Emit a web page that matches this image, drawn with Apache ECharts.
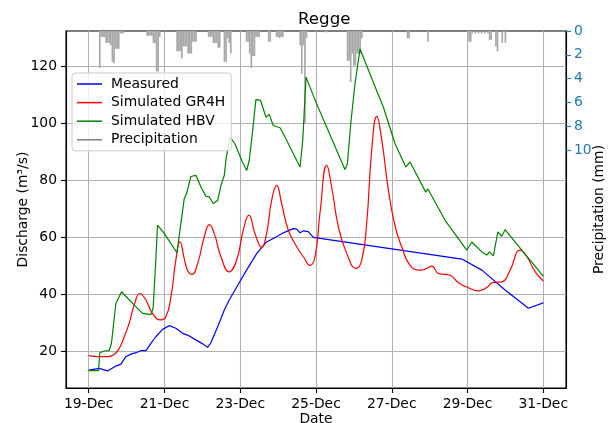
<!DOCTYPE html>
<html>
<head>
<meta charset="utf-8">
<script src="https://cdn.jsdelivr.net/npm/echarts@6/dist/echarts.min.js"></script>
<style>
html,body{margin:0;padding:0;background:#fff;}
#chart{width:613px;height:423px;}
</style>
</head>
<body>
<div id="chart"></div>
<script>
// Axis ticks: hours after 19-Dec 00:00 and their labels
const dayTickHours = [0, 48, 96, 144, 192, 240, 288];
const dayTickLabels = ['19-Dec', '21-Dec', '23-Dec', '25-Dec', '27-Dec', '29-Dec', '31-Dec'];
const dischargeTicks = [20, 40, 60, 80, 100, 120];
const precipTicks = [0, 2, 4, 6, 8, 10];

// Measured discharge (m³/s)
const measuredHours = [0, 6.6, 11.9, 17.2, 20.4, 23.5, 26.7, 29.9, 33, 36.2, 39.4, 42.5, 46.8, 51, 55.2, 59.5, 63.7, 67.9, 72.2, 75.3, 77.4, 81.7, 85.9, 89, 93.5, 100, 106.4, 112.7, 119, 123.3, 129.6, 131.8, 133.9, 136, 139.1, 142.3, 236.4, 249.1, 263.8, 278.6, 288];
const measuredFlow = [13.4, 14.0, 13.1, 14.8, 15.5, 18.1, 19.0, 19.5, 20.2, 20.2, 22.8, 25.1, 27.7, 29.0, 28.1, 26.3, 25.4, 24.0, 22.6, 21.4, 23.0, 28.6, 34.5, 38.0, 42.3, 48.5, 54.3, 58.4, 60.2, 61.6, 63.1, 62.9, 61.6, 62.3, 62.0, 60.0, 52.4, 48.5, 41.5, 35.1, 37.0];

// GR4H simulated discharge (m³/s)
const gr4hHours = [0, 6.6, 11.9, 16.1, 19.3, 22.5, 25.6, 28.8, 32.4, 36.2, 40.4, 45.7, 48.9, 52.1, 55.2, 57.8, 60.5, 62.6, 65.4, 69, 73.2, 76.4, 79.5, 83.8, 89, 93.7, 97.9, 101.5, 105.3, 109.6, 112.7, 115.9, 119.1, 122.2, 126.5, 131.8, 136, 140.2, 143.4, 146.5, 150.8, 153.9, 158.2, 163.5, 169.4, 173, 176.1, 179.3, 182.5, 185.7, 189.9, 194.1, 198.3, 203.6, 209.9, 214.2, 217.4, 221.6, 229, 234.2, 240.6, 246.9, 252.2, 256.4, 261.7, 267, 273.3, 277.6, 282.9, 288];
const gr4hFlow = [18.5, 18.1, 18.1, 18.9, 21.0, 25.1, 29.8, 36.2, 40.3, 38.0, 33.3, 31.0, 32.1, 39.1, 52.0, 58.4, 52.6, 48.5, 47.0, 50.8, 60.2, 64.5, 61.4, 53.2, 47.9, 52.0, 62.5, 67.8, 61.4, 56.5, 61.4, 73.0, 78.3, 71.9, 62.5, 56.7, 53.2, 50.2, 53.2, 68.4, 85.3, 77.7, 63.7, 54.3, 49.1, 52.0, 64.9, 90.6, 102.5, 94.1, 76.5, 64.0, 56.7, 50.2, 48.5, 49.1, 49.9, 47.3, 46.7, 44.1, 42.3, 41.2, 42.4, 44.2, 44.4, 48.5, 55.5, 53.2, 47.9, 44.7];

// HBV simulated discharge (m³/s)
const hbvHours = [0, 6.2, 7, 9.8, 12.9, 14.4, 17.2, 20.8, 27.8, 34.1, 39.4, 40.8, 42.5, 43.6, 47.8, 55.9, 58.4, 60.5, 62, 64.7, 67.9, 71.1, 74.3, 76.3, 78.9, 81.7, 83.8, 85.9, 86.9, 89.5, 92.6, 96.9, 100.1, 101.7, 103.2, 105.9, 108.9, 112.3, 114.4, 116.9, 121.2, 125.4, 129.6, 133.9, 135.6, 137.7, 144.4, 150.8, 162.4, 163.9, 166, 168.7, 171.9, 178.2, 186.7, 194.1, 200.9, 203.6, 213.5, 214.8, 225.8, 239.5, 242.7, 249.1, 252.2, 253.9, 256.4, 259.2, 261.7, 263.8, 274.4, 288];
const hbvFlow = [13.2, 13.2, 19.5, 20.1, 20.2, 22.8, 36.8, 40.9, 36.8, 33.3, 32.9, 35.1, 52.0, 64.3, 61.4, 54.6, 64.9, 73.6, 75.4, 81.4, 81.8, 77.7, 74.4, 74.3, 71.9, 73.0, 78.3, 81.8, 87.1, 95.2, 92.9, 87.1, 83.5, 87.1, 94.1, 108.4, 108.1, 102.2, 103.2, 99.3, 98.5, 94.1, 89.4, 84.7, 94.1, 116.3, 106.9, 98.7, 83.8, 85.9, 99.9, 113.9, 126.2, 117.4, 105.7, 92.9, 84.7, 86.5, 75.9, 77.1, 66.0, 55.5, 58.4, 54.9, 53.8, 54.9, 53.5, 61.9, 60.4, 62.7, 55.5, 46.4];

// Hourly precipitation (mm), hours after 19-Dec 00:00
const precipHours = [7, 8, 9, 10, 11, 12, 13, 14, 15, 16, 17, 18, 19, 20, 21, 22,
  37, 38, 39, 40, 41, 42, 43, 44, 45,
  56, 57, 58, 59, 60, 61, 62, 63, 64, 65, 66, 67, 68,
  76, 77, 78, 79, 80, 81, 82, 83, 86, 87, 88, 89, 90,
  100, 101, 102, 103, 104, 105, 106, 107, 108, 114, 115, 119, 120, 121, 122, 123,
  134, 135, 136, 137, 138, 150, 151,
  164, 165, 166, 167, 168, 169, 170, 171, 172, 173,
  202, 203, 215, 241, 242, 243, 245, 247, 249, 251, 253, 254, 255, 258, 259, 262, 264];
const precipMm = [3.1, 0.5, 0.5, 0.5, 1.0, 1.0, 1.0, 1.2, 2.6, 2.7, 1.5, 1.5, 1.5, 0.2, 0.2, 0.2,
  0.4, 0.4, 0.4, 0.4, 1.0, 1.0, 3.4, 3.4, 0.5,
  1.7, 1.7, 1.7, 2.3, 1.3, 1.3, 1.3, 1.9, 1.9, 1.9, 0.9, 0.9, 0.9,
  0.5, 0.5, 0.5, 1.0, 1.0, 1.0, 1.4, 1.4, 2.6, 2.6, 0.6, 1.0, 1.9,
  0.9, 0.9, 1.9, 3.1, 2.1, 2.1, 0.5, 0.5, 0.5, 0.9, 0.9, 0.5, 0.5, 0.6, 0.5, 0.5,
  1.2, 3.6, 1.2, 7.8, 0.6, 0.1, 0.1,
  2.5, 2.5, 4.3, 1.9, 2.9, 2.9, 1.9, 1.9, 1.9, 0.6,
  0.6, 0.6, 0.9, 0.9, 0.9, 0.2, 0.2, 0.2, 0.2, 0.2, 0.2, 0.75, 0.75, 1.3, 1.7, 1.0, 1.0];

const pair = (xs, ys) => xs.map((x, i) => [x, ys[i]]);
const FONT = 'DejaVu Sans';

const chart = echarts.init(document.getElementById('chart'), null, { renderer: 'canvas' });
chart.setOption({
  animation: false,
  backgroundColor: '#ffffff',
  textStyle: { fontFamily: FONT },
  title: {
    text: 'Regge',
    left: 293,
    top: 6,
    textStyle: { fontFamily: FONT, fontSize: 16.7, fontWeight: 'normal', color: '#000' }
  },
  grid: {
    left: 66, right: 47, top: 31, bottom: 35,
    outerBoundsMode: 'none', containLabel: false,
    show: true, borderColor: '#000', borderWidth: 1.1, backgroundColor: 'transparent'
  },
  legend: {
    orient: 'vertical',
    left: 72, top: 73,
    padding: [3, 6, 3, 5],
    itemGap: 2.6,
    itemWidth: 25, itemHeight: 1.5,
    icon: 'rect',
    backgroundColor: 'rgba(255,255,255,0.8)',
    borderColor: '#cccccc', borderWidth: 1, borderRadius: 3,
    textStyle: { fontFamily: FONT, fontSize: 13.9, color: '#000', lineHeight: 16, padding: [0, 0, 0, 4] },
    data: [
      { name: 'Measured' },
      { name: 'Simulated GR4H' },
      { name: 'Simulated HBV' },
      { name: 'Precipitation', itemStyle: { color: '#808080' } }
    ]
  },
  xAxis: {
    type: 'value',
    min: -14.4, max: 302.4,
    name: 'Date', nameLocation: 'middle', nameGap: 24, nameMoveOverlap: false,
    nameTextStyle: { fontFamily: FONT, fontSize: 13.9, color: '#000' },
    axisLine: { show: true, onZero: false, lineStyle: { color: '#000', width: 1.1 } },
    axisTick: { show: true, length: 5, customValues: dayTickHours, lineStyle: { color: '#000', width: 1.1 } },
    axisLabel: {
      customValues: dayTickHours, margin: 9,
      fontFamily: FONT, fontSize: 13.9, color: '#000',
      formatter: v => dayTickLabels[dayTickHours.indexOf(v)] || ''
    },
    splitLine: { show: true, lineStyle: { color: '#b0b0b0', width: 1.1 } }
  },
  yAxis: [
    {
      type: 'value', min: 7.1, max: 132.5,
      name: 'Discharge (m³/s)', nameLocation: 'middle', nameGap: 36, nameRotate: 90, nameMoveOverlap: false,
      nameTextStyle: { fontFamily: FONT, fontSize: 13.9, color: '#000' },
      axisLine: { show: true, onZero: false, lineStyle: { color: '#000', width: 1.1 } },
      axisTick: { show: true, length: 5, customValues: dischargeTicks, lineStyle: { color: '#000', width: 1.1 } },
      axisLabel: { customValues: dischargeTicks, margin: 9, fontFamily: FONT, fontSize: 13.9, color: '#000' },
      splitLine: { show: true, lineStyle: { color: '#b0b0b0', width: 1.1 } }
    },
    {
      type: 'value', min: 0, max: 30, inverse: true, position: 'right',
      name: 'Precipitation (mm)', nameLocation: 'middle', nameGap: 26, nameRotate: 90, nameMoveOverlap: false,
      nameTextStyle: { fontFamily: FONT, fontSize: 13.9, color: '#000' },
      axisLine: { show: true, onZero: false, lineStyle: { color: '#000', width: 1.1 } },
      axisTick: { show: true, length: 5, customValues: precipTicks, lineStyle: { color: '#1f77b4', width: 1.1 } },
      axisLabel: { customValues: precipTicks, margin: 8, fontFamily: FONT, fontSize: 13.9, color: '#1f77b4' },
      splitLine: { show: false }
    }
  ],
  series: [
    {
      name: 'Precipitation', type: 'bar', yAxisIndex: 1,
      data: pair(precipHours, precipMm),
      barWidth: 1.7,
      itemStyle: { color: '#a9a9a9' },
      z: 1
    },
    {
      name: 'Measured', type: 'line', data: pair(measuredHours, measuredFlow),
      showSymbol: false, symbol: 'none',
      lineStyle: { color: '#0000ff', width: 1.2 }, itemStyle: { color: '#0000ff' }, z: 3
    },
    {
      name: 'Simulated GR4H', type: 'line', data: pair(gr4hHours, gr4hFlow),
      showSymbol: false, symbol: 'none', smooth: 0.5,
      lineStyle: { color: '#ff0000', width: 1.2 }, itemStyle: { color: '#ff0000' }, z: 3
    },
    {
      name: 'Simulated HBV', type: 'line', data: pair(hbvHours, hbvFlow),
      showSymbol: false, symbol: 'none',
      lineStyle: { color: '#008000', width: 1.2 }, itemStyle: { color: '#008000' }, z: 3
    }
  ]
});
</script>
</body>
</html>
